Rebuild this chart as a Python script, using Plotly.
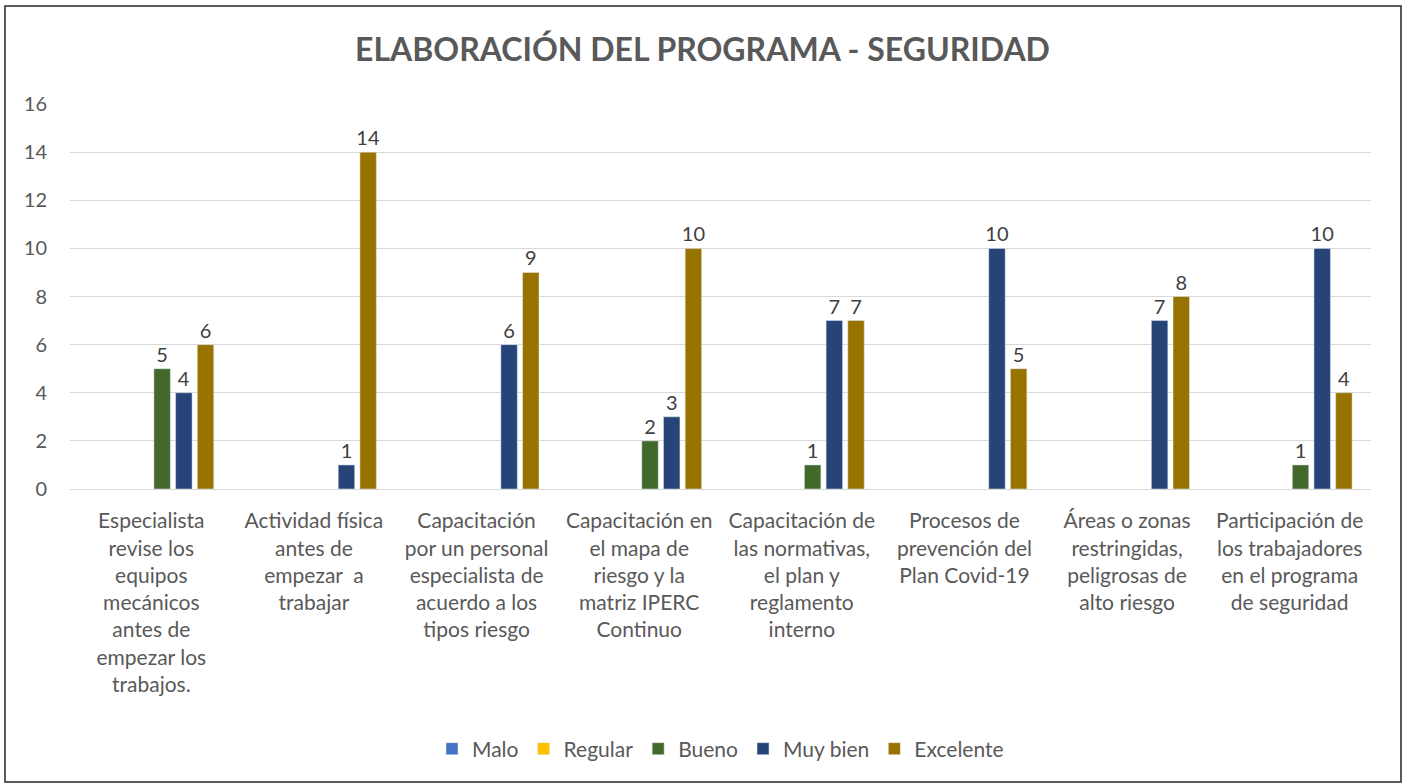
import plotly.graph_objects as go

categories = [
    "Especialista<br>revise los<br>equipos<br>mecánicos<br>antes de<br>empezar los<br>trabajos.",
    "Actividad física<br>antes de<br>empezar  a<br>trabajar",
    "Capacitación<br>por un personal<br>especialista de<br>acuerdo a los<br>tipos riesgo",
    "Capacitación en<br>el mapa de<br>riesgo y la<br>matriz IPERC<br>Continuo",
    "Capacitación de<br>las normativas,<br>el plan y<br>reglamento<br>interno",
    "Procesos de<br>prevención del<br>Plan Covid-19",
    "Áreas o zonas<br>restringidas,<br>peligrosas de<br>alto riesgo",
    "Participación de<br>los trabajadores<br>en el programa<br>de seguridad",
]
blank = [None] * 8
malo = [None] * 8
regular = [None] * 8
bueno = [5, None, None, 2, 1, None, None, 1]
muy_bien = [4, 1, 6, 3, 7, 10, 7, 10]
excelente = [6, 14, 9, 10, 7, 5, 8, 4]
y_ticks = [0, 2, 4, 6, 8, 10, 12, 14, 16]

FONT = "Lato"
series = [
    ("", blank, "#A5A5A5", False),
    ("Malo", malo, "#4472C4", True),
    ("Regular", regular, "#FFC000", True),
    ("Bueno", bueno, "#43682B", True),
    ("Muy bien", muy_bien, "#264478", True),
    ("Excelente", excelente, "#997300", True),
]

fig = go.Figure()
for name, vals, color, show in series:
    fig.add_trace(go.Bar(
        x=categories, y=vals, name=name, marker_color=color,
        showlegend=show,
        text=[("" if v is None else str(v)) for v in vals],
        textposition="outside", cliponaxis=False, constraintext="none",
        textfont=dict(family=FONT, size=20, color="#404040"),
    ))

W, H = 1405, 784
L, R, T, B = 70, 34, 104, 295
pw, ph = W - L - R, H - T - B

def px(x):
    return (x - L) / pw

def py(y):
    return (H - B - y) / ph

fig.update_layout(
    width=W, height=H,
    margin=dict(l=L, r=R, t=T, b=B),
    paper_bgcolor="white", plot_bgcolor="white",
    barmode="group", bargap=0.2, bargroupgap=0.24,
    font=dict(family=FONT, color="#595959"),
    title=dict(text="<b>ELABORACIÓN DEL PROGRAMA - SEGURIDAD</b>",
               x=0.5, xanchor="center", y=1 - 50 / H, yanchor="middle",
               font=dict(family=FONT, size=32, color="#595959")),
    legend=dict(orientation="h", x=0.5, xanchor="center",
                y=py(749), yanchor="middle",
                font=dict(family=FONT, size=21, color="#595959"),
                traceorder="normal"),
    xaxis=dict(tickangle=0, tickfont=dict(family=FONT, size=21, color="#595959"),
               showline=True, linecolor="#D9D9D9", linewidth=1,
               ticklabelstandoff=13),
    yaxis=dict(range=[0, 16], tickvals=y_ticks, showgrid=True,
               gridcolor="#D9D9D9", gridwidth=1, zeroline=False,
               tickfont=dict(family=FONT, size=20, color="#595959"),
               ticklabelstandoff=22),
    shapes=[dict(type="rect", xref="paper", yref="paper",
                 x0=px(5), x1=px(1401), y0=py(782), y1=py(6),
                 line=dict(color="#262626", width=1.5))],
)

fig.write_html("out.html", config={"displayModeBar": False},
               post_script="document.body.style.margin='0';")
